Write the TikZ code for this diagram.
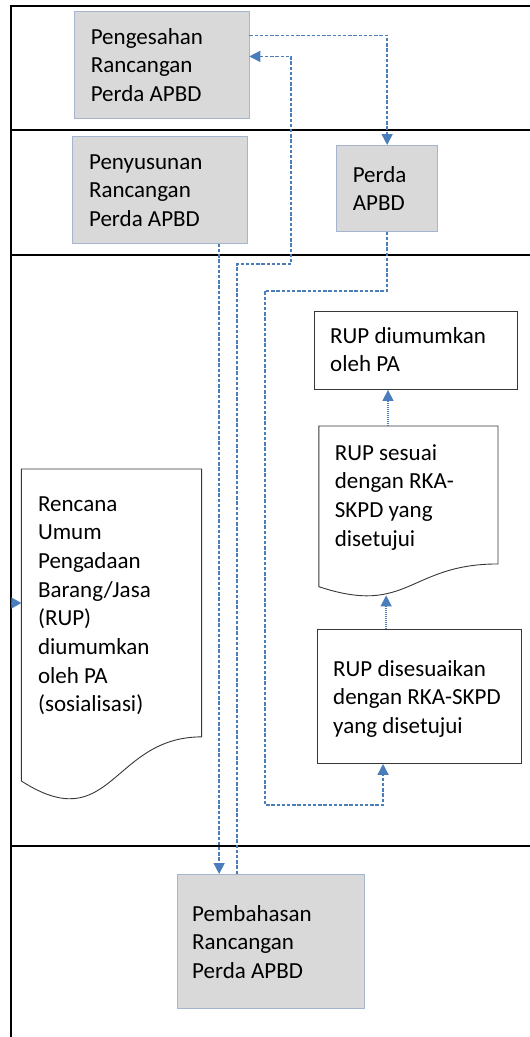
\documentclass[tikz,border=0pt]{standalone}
\usepackage{fontspec}
\setmainfont{Carlito}
\usetikzlibrary{arrows.meta,calc}
\definecolor{flowblue}{RGB}{74,126,187}
\definecolor{boxgray}{RGB}{217,217,217}
\definecolor{boxedge}{RGB}{165,181,207}
\definecolor{docedge}{RGB}{55,55,55}
\tikzset{
  grayBox/.style={draw=boxedge, fill=boxgray, line width=0.8pt, inner sep=0pt, anchor=north west, rectangle},
  whiteBox/.style={draw=docedge, fill=white, line width=0.9pt, inner sep=0pt, anchor=north west, rectangle},
  docArea/.style={inner sep=0pt, anchor=north west, rectangle},
  docLine/.style={draw=docedge, fill=white, line width=0.9pt},
  txt/.style={font=\fontsize{23}{28.7}\selectfont, align=left, inner sep=0pt, anchor=base west},
  flowline/.style={draw=flowblue, line width=1.5pt, dash pattern=on 3.4pt off 1.8pt},
  dotline/.style={draw=flowblue, line width=1.5pt, dash pattern=on 1pt off 1pt},
  tipped/.style={-{Triangle[length=11pt,width=11pt,fill=flowblue,color=flowblue]}},
  lane/.style={black, line width=2pt},
}
\begin{document}
\begin{tikzpicture}[x=1pt,y=-1pt]
\useasboundingbox (0,0) rectangle (530,1037);
% lanes
\draw[lane] (11,1037) -- (11,6) -- (531,6);
\draw[lane] (11,130) -- (531,130);
\draw[lane] (11,255) -- (531,255);
\draw[lane] (11,846) -- (531,846);
% boxes
\node[grayBox, minimum width=174.1pt, minimum height=107pt] (peng) at (74.4,11) {};
\node[grayBox, minimum width=174.5pt, minimum height=107pt] (peny) at (72.3,136) {};
\node[grayBox, minimum width=100.7pt, minimum height=86pt] (perda) at (336.4,145) {};
\node[whiteBox, minimum width=203.6pt, minimum height=78pt] (rupd) at (313.7,311) {};
\node[whiteBox, minimum width=203.8pt, minimum height=134pt] (dis) at (316.8,629) {};
\node[grayBox, minimum width=187.9pt, minimum height=134pt] (pemb) at (176.5,874) {};
% document shapes
\node[docArea, minimum width=178.8pt, minimum height=169pt] (rs) at (318.8,426) {};
\draw[docLine] (rs.north west) -- (rs.north east) -- ($(rs.north east)+(0,0.802*172)$)
  .. controls ($(rs.north)+(0,0.802*172)$) and ($(rs.north)+(0,1.1075*172)$) .. ($(rs.north west)+(0,0.934*172)$) -- cycle;
\node[docArea, minimum width=179.9pt, minimum height=312pt] (ren) at (21.3,469) {};
\draw[docLine] (ren.north west) -- (ren.north east) -- ($(ren.north east)+(0,0.802*334)$)
  .. controls ($(ren.north)+(0,0.802*334)$) and ($(ren.north)+(0,1.1075*334)$) .. ($(ren.north west)+(0,0.934*334)$) -- cycle;
% texts (anchored at the baseline of their last line)
\node[txt] (pengT) at (90.6,101.4) {Pengesahan\\Rancangan\\Perda APBD};
\node[txt] (penyT) at (88.9,226.4) {Penyusunan\\Rancangan\\Perda APBD};
\node[txt] (perdaT) at (352.6,210.7) {Perda\\APBD};
\node[txt] (rupdT) at (330,371.7) {RUP diumumkan\\oleh PA};
\node[txt] (rsT) at (334.7,546.1) {RUP sesuai\\dengan RKA-\\SKPD yang\\disetujui};
\node[txt] (disT) at (333,733.4) {RUP disesuaikan\\dengan RKA-SKPD\\yang disetujui};
\node[txt] (renT) at (37.9,711.9) {Rencana\\Umum\\Pengadaan\\Barang/Jasa\\(RUP)\\diumumkan\\oleh PA\\(sosialisasi)};
\node[txt] (pembT) at (192,978.4) {Pembahasan\\Rancangan\\Perda APBD};
% connectors
\draw[flowline, tipped] ([yshift=29.5pt]peng.east) -| (perda.north);
\draw[flowline, tipped] ([xshift=59.2pt]peny.south) coordinate (aS) -- (aS |- pemb.north);
\draw[flowline, tipped] ([xshift=-33.75pt]pemb.north) -- ++(0,-610) -- ++(54,0) |- ([yshift=8.5pt]peng.east);
\draw[flowline, tipped] (perda.south) -- ++(0,59) -- ++(-122.35,0) -- ++(0,514) -| ([xshift=-36.1pt]dis.south);
\draw[dotline, tipped] ([xshift=-33pt]dis.north) coordinate (dS) -- (dS |- rs.south);
\draw[dotline, tipped] ([xshift=-20.4pt]rs.north) coordinate (rS) -- (rS |- rupd.south);
\coordinate (inl) at (11,603);
\draw[draw=flowblue, line width=1pt, -{Triangle[length=10pt,width=11pt,fill=flowblue,color=flowblue]}] (inl) -- (inl -| ren.west);
\end{tikzpicture}
\end{document}
